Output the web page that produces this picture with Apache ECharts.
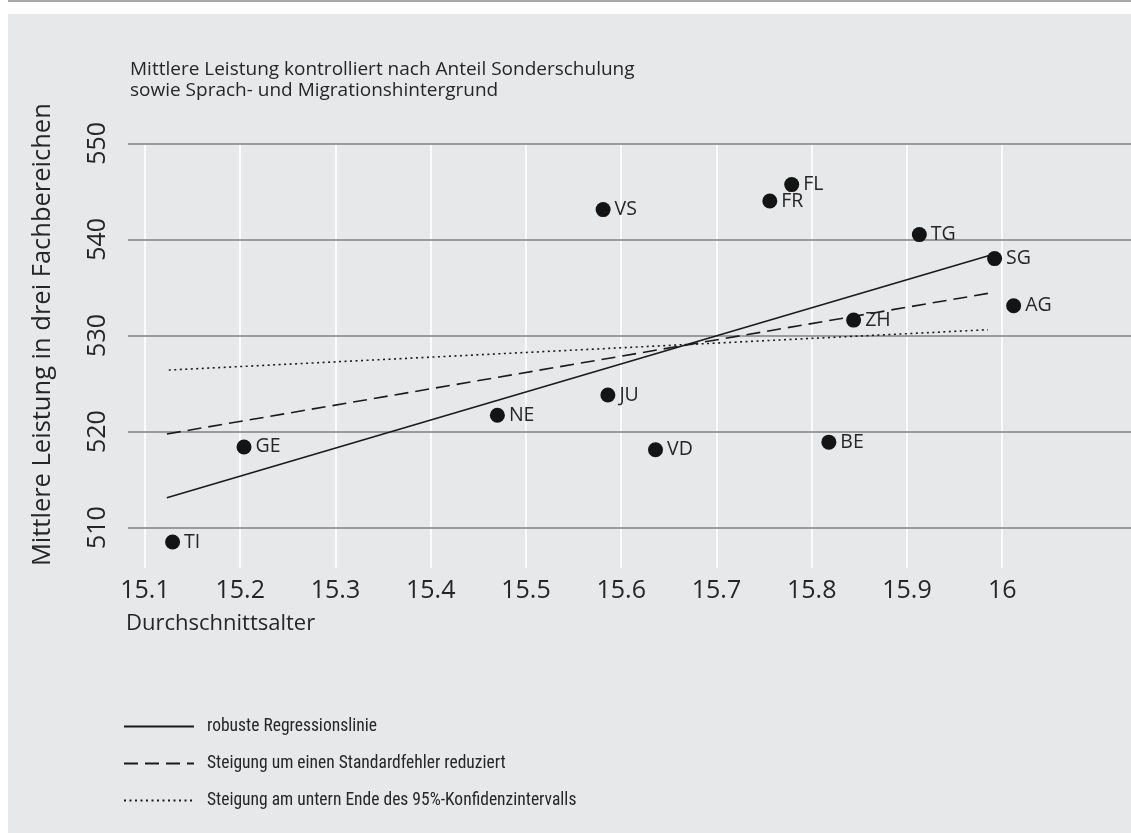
<!DOCTYPE html>
<html><head><meta charset="utf-8">
<script src="https://cdn.jsdelivr.net/npm/echarts@6/dist/echarts.min.js"></script>
<style>html,body{margin:0;padding:0;background:#fff}#c{width:1131px;height:833px}</style>
</head><body><div id="c"></div>
<script>
const cantons = ['TI','GE','NE','VS','JU','VD','FR','FL','BE','ZH','TG','SG','AG'];
const ages    = [15.129,15.204,15.470,15.581,15.586,15.636,15.756,15.779,15.818,15.844,15.913,15.992,16.012];
const scores  = [508.5,518.4,521.7,543.1,523.8,518.1,544.0,545.7,518.9,531.6,540.5,538.0,533.1];
const lineRobust  = [[15.123,513.1],[15.989,538.4]];
const lineReduced = [[15.123,519.75],[15.989,534.45]];
const lineLower   = [[15.125,526.4],[15.985,530.6]];
const seriesNames = ['robuste Regressionslinie','Steigung um einen Standardfehler reduziert','Steigung am untern Ende des 95%-Konfidenzintervalls'];
const xTicks = [15.1,15.2,15.3,15.4,15.5,15.6,15.7,15.8,15.9,16];
const yTicks = [510,520,530,540,550];
const titleLines = ['Mittlere Leistung kontrolliert nach Anteil Sonderschulung','sowie Sprach- und Migrationshintergrund'];
const xName = 'Durchschnittsalter';
const yName = 'Mittlere Leistung in drei Fachbereichen';

const FONT = "'Open Sans', sans-serif";
const NARROW = "'Roboto Condensed', 'Open Sans', sans-serif";
const TXT = '#262626';
const chart = echarts.init(document.getElementById('c'));
chart.setOption({
  backgroundColor: '#ffffff',
  animation: false,
  graphic: [
    {type:'rect', z:-10, shape:{x:8,y:14,width:1131,height:833}, style:{fill:'#e7e8ea'}},
    {type:'line', z:-10, shape:{x1:8,y1:1,x2:1131,y2:1}, style:{stroke:'#a8a8a8',lineWidth:2}}
  ],
  title: [
    {text: titleLines.join('\n'), left: 130, top: 59, padding: 0,
     textStyle: {fontFamily: FONT, fontSize: 19, fontWeight: 'normal', color: TXT, lineHeight: 21}},
    {text: xName, left: 126, top: 613, padding: 0,
     textStyle: {fontFamily: FONT, fontSize: 22, fontWeight: 'normal', color: TXT}}
  ],
  legend: {
    data: seriesNames, orient: 'vertical', left: 123, top: 717.5, padding: 0,
    itemWidth: 70, itemHeight: 14, itemGap: 19,
    itemStyle: {opacity: 0},
    textStyle: {fontFamily: NARROW, fontSize: 17.5, color: TXT, padding:[0,0,0,8]}
  },
  grid: {left: 128, right: 0, top: 143.3, bottom: 265, containLabel: false, outerBoundsMode: 'none'},
  xAxis: {
    type: 'value', min: 15.0822, max: 16.1352,
    axisLine: {show: false}, axisTick: {show: false}, splitLine: {show: false},
    axisLabel: {customValues: xTicks, fontFamily: FONT, fontSize: 25, color: TXT, margin: 10,
      formatter: v => String(Math.round(v*10)/10)}
  },
  yAxis: {
    type: 'value', min: 505.8, max: 550,
    name: yName, nameLocation: 'middle', nameGap: 72, nameRotate: 90,
    nameTextStyle: {fontFamily: FONT, fontSize: 25.5, color: TXT, padding: [0,0,0,42]},
    axisLine: {show: false}, axisTick: {show: false}, splitLine: {show: false},
    axisLabel: {customValues: yTicks, rotate: 90, fontFamily: FONT, fontSize: 25, color: TXT, margin: 18}
  },
  series: [
    {type:'line', name:'grid', data:[], silent:true, z:1,
     markLine: {silent:true, symbol:'none', animation:false, z:1, label:{show:false},
       data: xTicks.map(v => ({xAxis: v, lineStyle:{color:'#ffffff', width:1.6, type:'solid'}}))
         .concat(yTicks.map(v => ({yAxis: v, lineStyle:{color:'#9b9b9b', width:2, type:'solid'}})))}},
    {type:'line', name: seriesNames[0], data: lineRobust, symbol:'none', z:3,
     lineStyle:{color:'#1a1a1a', width:1.6, type:'solid'}, itemStyle:{color:'#1a1a1a'}},
    {type:'line', name: seriesNames[1], data: lineReduced, symbol:'none', z:3,
     lineStyle:{color:'#1a1a1a', width:1.6, type:[14,7]}, itemStyle:{color:'#1a1a1a'}},
    {type:'line', name: seriesNames[2], data: lineLower, symbol:'none', z:3,
     lineStyle:{color:'#1a1a1a', width:1.6, type:[2,3.5]}, itemStyle:{color:'#1a1a1a'}},
    {type:'scatter', name:'Kantone', symbol:'circle', symbolSize: 15, z:4,
     data: cantons.map((c,i) => ({name: c, value: [ages[i], scores[i]]})),
     itemStyle:{color:'#141414', opacity: 1},
     label:{show:true, position:'right', distance:4, formatter: p => p.name,
       fontFamily: FONT, fontSize: 19.5, color: TXT}}
  ]
});
</script></body></html>
